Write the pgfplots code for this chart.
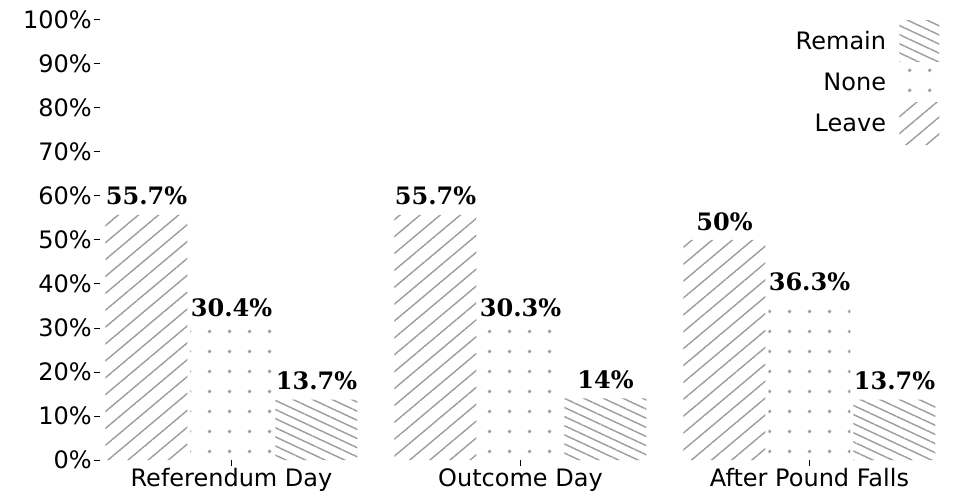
\documentclass[border=0pt]{standalone}
\usepackage{fontspec}
\setmainfont{DejaVu Sans}
\newfontfamily\lblfont{DejaVu Serif}
\usepackage{pgfplots}
\pgfplotsset{compat=1.18}
\usetikzlibrary{patterns.meta}
\definecolor{hatch}{HTML}{9E9E9E}

% hatch for Leave: lines rising at 40 degrees
\tikzdeclarepattern{
  name=leavelines,
  bounding box={(0pt,-0.6pt) and (9.7pt,0.6pt)},
  tile size={(9.7pt,9.7pt)},
  tile transformation={rotate=40},
  code={\draw[line width=1.1pt] (0pt,0pt) -- (9.7pt,0pt);},
}
% hatch for Remain: lines falling at 25 degrees
\tikzdeclarepattern{
  name=remainlines,
  bounding box={(0pt,-0.6pt) and (6.2pt,0.6pt)},
  tile size={(6.2pt,6.2pt)},
  tile transformation={rotate=-25},
  code={\draw[line width=1.1pt] (0pt,0pt) -- (6.2pt,0pt);},
}
\tikzdeclarepattern{
  name=bigdots,
  bounding box={(0pt,0pt) and (15pt,15pt)},
  tile size={(15pt,15pt)},
  code={\fill (7.5pt,7.5pt) circle (1.5pt);},
}

\begin{document}
\begin{tikzpicture}
\begin{axis}[
  scale only axis,width=633.75pt,height=330pt,
  xmin=-0.455,xmax=2.469,ymin=0,ymax=100,
  ybar=2.25pt,bar width=61.5pt,
  xtick={0,1,2},xticklabels={Referendum Day,Outcome Day,After Pound Falls},
  ytick={0,10,...,100},
  yticklabel={\pgfmathprintnumber{\tick}\%},
  /pgf/number format/assume math mode=true,
  tick label style={font=\fontsize{18}{21}\selectfont,inner sep=1.5pt},
  axis line style={draw=none},
  xtick pos=bottom,ytick pos=left,tick align=outside,major tick length=4.5pt,
  tick style={black,line width=0.75pt},
  nodes near coords={\pgfmathprintnumber{\pgfplotspointmeta}\%},
  nodes near coords style={font=\lblfont\bfseries\fontsize{18}{21}\selectfont,
    anchor=south,inner sep=0pt,yshift=7pt},
  legend style={at={(1,1)},anchor=north east,xshift=-4pt,draw=none,fill=none,
    inner sep=0pt,row sep=0pt,column sep=8pt,font=\fontsize{18}{21}\selectfont},
  legend cell align=right,legend plot pos=right,reverse legend,
  legend image code/.code={\fill[#1] (0pt,-15.5pt) rectangle (30pt,15.5pt);},
]
\addplot[draw=none,pattern=leavelines,pattern color=hatch]
  coordinates {(0,55.7) (1,55.7) (2,50)};
\addplot[draw=none,pattern=bigdots,pattern color=hatch]
  coordinates {(0,30.4) (1,30.3) (2,36.3)};
\addplot[draw=none,pattern=remainlines,pattern color=hatch]
  coordinates {(0,13.7) (1,14) (2,13.7)};
\legend{Leave,None,Remain}
\end{axis}
\pgfresetboundingbox
\path ([xshift=-75pt,yshift=-30pt]current axis.south west) rectangle ([xshift=11.25pt,yshift=15pt]current axis.north east);
\end{tikzpicture}
\end{document}
